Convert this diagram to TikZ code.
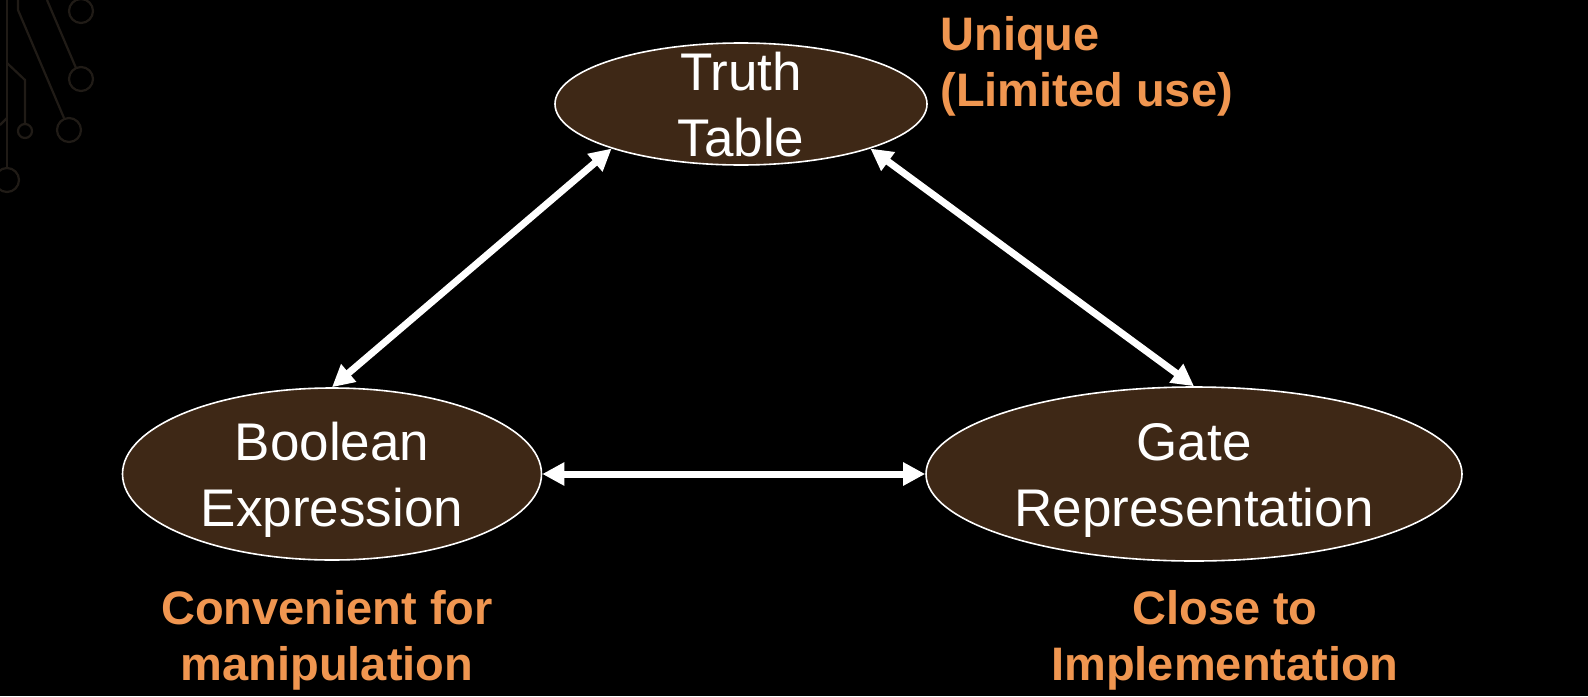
\documentclass[tikz,border=0pt]{standalone}
\usepackage{fontspec}
\setmainfont{Liberation Sans}
\usetikzlibrary{shapes.geometric,arrows.meta}
\definecolor{bgbrown}{RGB}{62,40,22}
\definecolor{noteorange}{RGB}{240,150,80}
\definecolor{trace}{RGB}{32,27,22}
\tikzset{
  oval/.style={ellipse, draw=white, line width=0.8pt, fill=bgbrown, inner sep=0pt},
  ovaltext/.style={text=white, align=center, inner sep=0pt, font=\fontsize{26.5}{33}\selectfont},
  note/.style={text=noteorange, inner sep=0pt, font=\fontsize{23.5}{28}\selectfont\bfseries},
  link/.style={draw=white, line width=3.5pt, {Triangle[length=11pt,width=11pt]}-{Triangle[length=11pt,width=11pt]}, shorten <=0pt, shorten >=0pt},
  wire/.style={draw=trace, line width=1.1pt}
}
\begin{document}
\begin{tikzpicture}[x=0.5pt,y=-0.5pt]
  \useasboundingbox (0,0) rectangle (1588,696);
  \fill[black] (0,0) rectangle (1588,696);
  % faint circuit traces in the corner
  \draw[wire] (7,0) -- (7,168);
  \draw[wire] (7,180) circle[radius=12];
  \draw[wire] (18,0) -- (18,10) -- (64,118);
  \draw[wire] (69,130) circle[radius=12];
  \draw[wire] (47,0) -- (76,68);
  \draw[wire] (81,79) circle[radius=12];
  \draw[wire] (81,11) circle[radius=12];
  \draw[wire] (7,63) -- (25,80) -- (25,124);
  \draw[wire] (25,131) circle[radius=7];
  \draw[wire] (0,125) -- (7,118);
  % ovals
  \node[oval, minimum width=186pt, minimum height=61pt] (tt) at (741,104) {};
  \node[oval, minimum width=209.5pt, minimum height=86pt] (be) at (332,474) {};
  \node[oval, minimum width=268pt, minimum height=87pt] (ge) at (1194,474) {};
  \node[ovaltext] (ttl) at (741,105) {Truth\\Table};
  \node[ovaltext] (bel) at (332,480) {Boolean\\Expression};
  \node[ovaltext] (gel) at (1194,480) {Gate\\Representation};
  % connectors
  \draw[link] (tt.199) -- (be.north);
  \draw[link] (tt.-19) -- (ge.north);
  \draw[link] (be.east) -- (ge.west);
  % notes
  \node[note, align=left, anchor=west] (n1) at (940,66) {Unique\\(Limited use)};
  \node[note, align=center] (n2) at (327,640) {Convenient for\\manipulation};
  \node[note, align=center] (n3) at (1225,640) {Close to\\Implementation};
\end{tikzpicture}
\end{document}
